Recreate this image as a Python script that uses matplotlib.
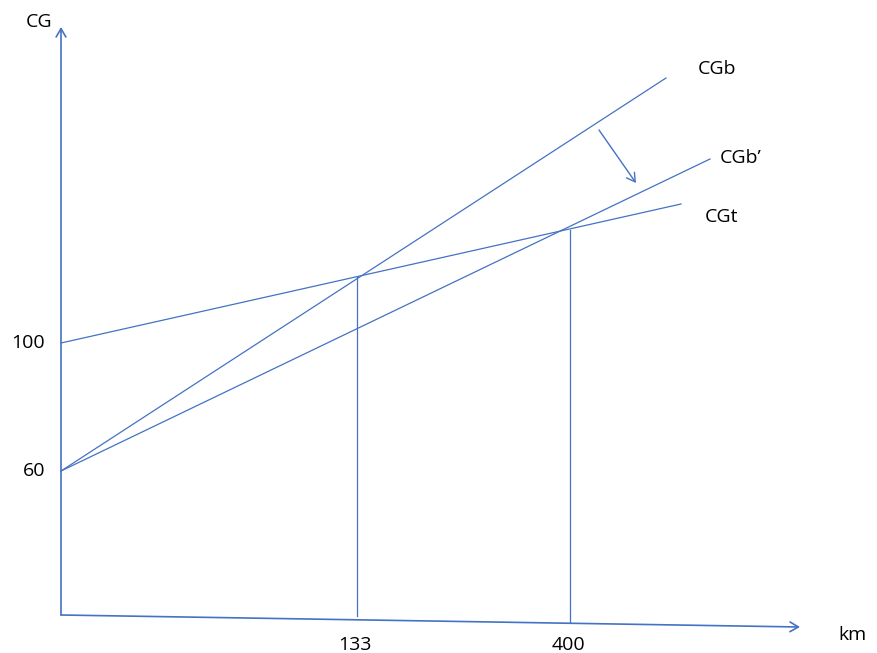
import matplotlib.pyplot as plt

# schematic units: x to the right, y downward (the drawing has no true scale)
blue = '#4472C4'

origin = (61, 615)
y_axis_top = (61, 27)
x_axis_end = (800, 627)

# cost lines: start point, end point
cgt = [(61, 343), (681, 204)]
cgb = [(61, 471), (666, 78)]
cgb2 = [(61, 471), (710, 159)]

# break-even verticals: (x, top, bottom)
verticals = [(357, 277, 616), (570, 230, 622)]

shift_arrow = [(599, 130), (636, 183)]

y_ticks = [(343, '100'), (471, '60')]
x_ticks = [(355, '133'), (568, '400')]
line_labels = [('CGb', 698, 69), ('CGb\u2019', 720, 158), ('CGt', 705, 217)]

plt.rcParams['font.family'] = ['Open Sans', 'DejaVu Sans']

fig = plt.figure(figsize=(8.77, 6.53), dpi=100)
ax = fig.add_axes([0, 0, 1, 1])
ax.set_xlim(0, 877)
ax.set_ylim(653, 0)
ax.axis('off')

arrow_kw = dict(arrowstyle='->,head_length=0.6,head_width=0.35', color=blue,
                lw=1.2, shrinkA=0, shrinkB=0, mutation_scale=10)
ax.annotate('', xy=y_axis_top, xytext=origin, arrowprops=arrow_kw)
ax.annotate('', xy=x_axis_end, xytext=origin, arrowprops=arrow_kw)

for seg in [cgt, cgb, cgb2]:
    ax.plot([seg[0][0], seg[1][0]], [seg[0][1], seg[1][1]], color=blue, lw=0.9)

for x, top, bottom in verticals:
    ax.plot([x, x], [top, bottom], color=blue, lw=0.9)

ax.annotate('', xy=shift_arrow[1], xytext=shift_arrow[0],
            arrowprops=dict(arrowstyle='->,head_length=0.6,head_width=0.35',
                            color=blue, lw=1.0, shrinkA=0, shrinkB=0,
                            mutation_scale=10))

fs = 14
ax.text(39, 22, 'CG', fontsize=fs, ha='center', va='center')
for y, lab in y_ticks:
    ax.text(45, y, lab, fontsize=fs, ha='right', va='center')
for x, lab in x_ticks:
    ax.text(x, 645, lab, fontsize=fs, ha='center', va='center')
ax.text(853, 635, 'km', fontsize=fs, ha='center', va='center')
for lab, x, y in line_labels:
    ax.text(x, y, lab, fontsize=fs, ha='left', va='center')

fig.savefig('out.png', dpi=100)
